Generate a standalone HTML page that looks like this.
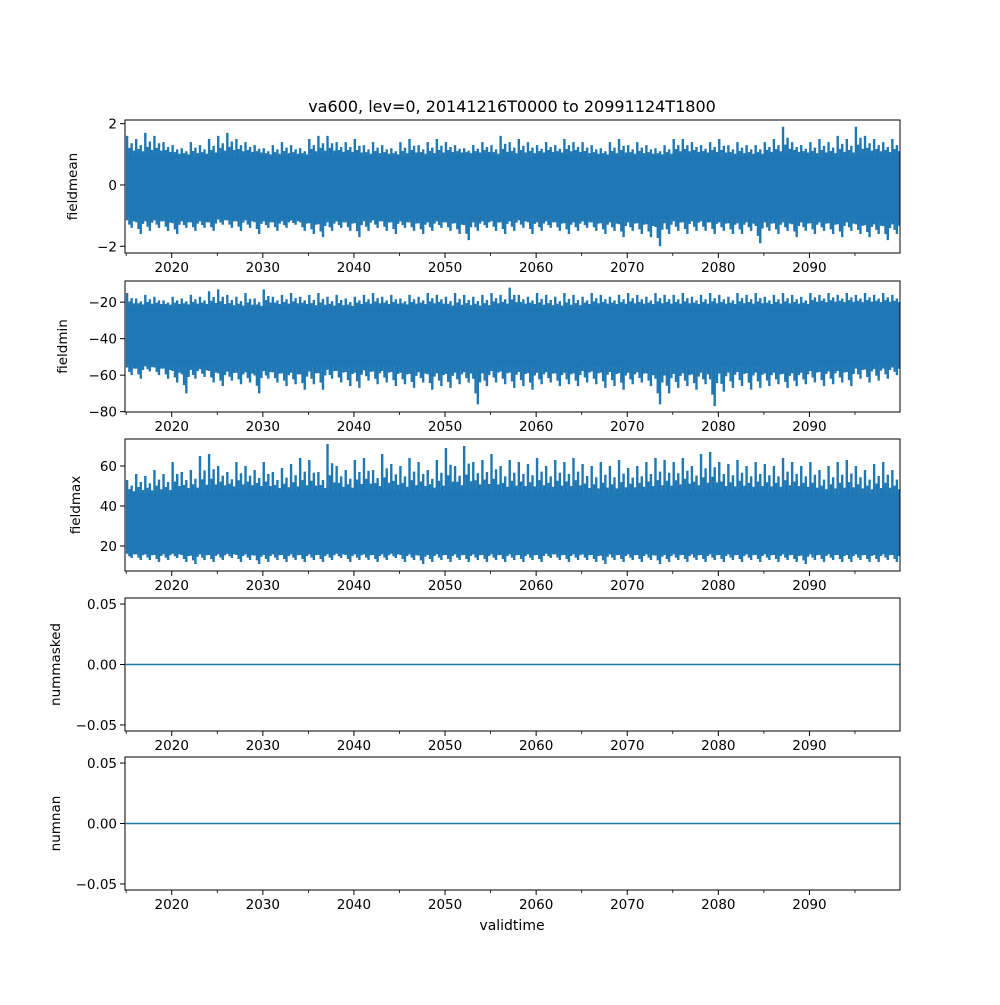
<!DOCTYPE html>
<html><head><meta charset="utf-8"><style>
html,body{margin:0;padding:0;background:#fff;}
svg text{font-family:"DejaVu Sans","Liberation Sans",sans-serif;fill:#000;}
</style></head><body>
<svg id="fig" width="1000" height="1000" viewBox="0 0 1000 1000" xmlns="http://www.w3.org/2000/svg">
<rect width="1000" height="1000" fill="#fff"/>
<text x="512" y="112" font-size="16" text-anchor="middle">va600, lev=0, 20141216T0000 to 20991124T1800</text>
<text x="512" y="930" font-size="14" text-anchor="middle">validtime</text>
</svg>
<script>
// ---- data (read/estimated from reference) ----
const years = [];
for (let y = 2015; y <= 2099; y++) years.push(y);
const binStarts = [2015,2020,2025,2030,2035,2040,2045,2050,2055,2060,2065,2070,2075,2080,2085,2090,2095];
const meanPeakHi = [1.6,1.5,1.7,1.6,1.4,1.3,1.2,1.4,1.3,1.5, 1.6,1.7,1.5,1.4,1.3,1.2,1.3,1.4,1.3,1.2, 1.5,1.6,1.6,1.4,1.4,1.5,1.3,1.4,1.3,1.2, 1.4,1.5,1.3,1.4,1.5,1.4,1.3,1.2,1.3,1.4, 1.3,1.6,1.4,1.5,1.4,1.3,1.4,1.3,1.5,1.4, 1.4,1.3,1.2,1.4,1.5,1.3,1.4,1.3,1.2,1.3, 1.5,1.5,1.4,1.3,1.4,1.5,1.3,1.4,1.3,1.3, 1.4,1.5,1.9,1.4,1.3,1.4,1.5,1.4,1.6,1.5, 1.9,1.6,1.5,1.4,1.5];
const meanPeakLo = [-1.4,-1.6,-1.5,-1.4,-1.5,-1.6,-1.4,-1.5,-1.4,-1.5, -1.3,-1.4,-1.5,-1.4,-1.6,-1.4,-1.5,-1.4,-1.3,-1.5, -1.6,-1.7,-1.5,-1.4,-1.5,-1.7,-1.5,-1.4,-1.5,-1.6, -1.4,-1.5,-1.6,-1.5,-1.4,-1.5,-1.6,-1.8,-1.5,-1.4, -1.5,-1.6,-1.5,-1.4,-1.6,-1.5,-1.4,-1.5,-1.6,-1.5, -1.4,-1.5,-1.6,-1.5,-1.7,-1.5,-1.6,-1.7,-2.0,-1.6, -1.5,-1.6,-1.5,-1.5,-1.6,-1.5,-1.6,-1.6,-1.5,-1.9, -1.5,-1.6,-1.5,-1.7,-1.5,-1.6,-1.5,-1.6,-1.7,-1.5, -1.6,-1.7,-1.6,-1.8,-1.6];
const meanCoreHi = [1.0,0.95,1.0,0.95,1.0,0.95,0.95,1.0,0.95,1.0,0.95,0.95,1.0,0.95,1.0,0.95,1.0];
const meanCoreLo = [-1.05,-1.1,-1.05,-1.1,-1.1,-1.05,-1.1,-1.1,-1.05,-1.1,-1.1,-1.1,-1.05,-1.1,-1.1,-1.1,-1.15];

const minPeakHi = [-15,-18,-16,-17,-19,-17,-18,-16,-17,-14, -13,-16,-17,-15,-18,-13,-17,-16,-15,-17, -16,-15,-17,-16,-18,-17,-16,-15,-17,-16, -18,-16,-17,-15,-16,-17,-15,-16,-17,-16, -15,-16,-12,-16,-17,-15,-16,-17,-15,-16, -17,-15,-16,-17,-16,-15,-16,-17,-15,-16, -16,-15,-17,-16,-15,-16,-17,-15,-16,-15, -17,-16,-15,-16,-17,-15,-16,-15,-16,-15, -16,-15,-16,-15,-16];
const minPeakLo = [-60,-62,-58,-60,-62,-64,-70,-62,-61,-64, -66,-63,-65,-64,-70,-62,-64,-66,-65,-68, -65,-68,-62,-64,-66,-67,-63,-65,-64,-66, -65,-67,-64,-68,-66,-67,-65,-64,-76,-66, -64,-65,-67,-66,-68,-65,-64,-66,-65,-66, -64,-65,-67,-66,-68,-65,-64,-66,-76,-70, -67,-66,-68,-65,-77,-69,-67,-66,-68,-67, -66,-65,-67,-66,-65,-64,-66,-65,-64,-66, -62,-64,-63,-62,-60];
const minCoreHi = [-22,-22,-23,-22,-23,-22,-22,-23,-22,-23,-22,-22,-22,-22,-22,-21,-21];
const minCoreLo = [-54,-55,-56,-56,-55,-55,-56,-56,-55,-56,-55,-56,-56,-55,-56,-55,-54];

const maxPeakHi = [53,56,55,58,56,62,57,58,65,66, 60,57,62,60,58,62,57,59,61,64, 63,57,71,60,58,63,64,58,66,61, 60,64,62,58,63,69,60,70,62,63, 66,60,63,62,61,64,60,63,62,64, 61,60,62,60,63,59,60,62,64,63, 62,64,60,66,67,62,61,63,60,62, 61,60,64,62,60,62,58,60,62,63, 60,58,61,62,58];
const maxPeakLo = [14,13,13,12,13,14,12,11,13,12, 13,14,12,13,11,12,13,12,13,12, 13,12,13,14,12,13,13,12,13,14, 12,13,11,12,13,12,13,12,13,12, 13,12,13,12,13,12,14,13,12,13, 13,12,11,13,12,13,12,13,11,12, 13,12,13,12,13,12,13,12,13,12, 13,12,13,12,11,13,12,13,12,12, 13,12,12,13,12];
const maxCoreHi = [46,47,48,47,47,48,47,48,47,47,46,47,48,47,47,46,46];
const maxCoreLo = [17,17,17,17,17,17,17,17,17,17,17,17,17,17,17,17,17];

const zeroSeries = [0, 0];
const xTickYears = [2020,2030,2040,2050,2060,2070,2080,2090];
const xMinorYears = [2015,2025,2035,2045,2055,2065,2075,2085,2095];

// ---- layout ----
const X0 = 125, X1 = 900, TMIN = 2014.87, TMAX = 2099.94;
const tEnd = 2099.9, tStart = 2014.96;
function sx(t){ return X0 + (t - TMIN) / (TMAX - TMIN) * (X1 - X0); }
const NS = 'http://www.w3.org/2000/svg';
const svg = document.getElementById('fig');
const C = '#1f77b4';
function el(tag, attrs, parent){ const e = document.createElementNS(NS, tag); for (const k in attrs) e.setAttribute(k, attrs[k]); (parent||svg).appendChild(e); return e; }

const panels = [
  {name:'fieldmean', top:120, bot:253, ymin:-2.22, ymax:2.12, ticks:[-2,0,2], labels:['\u22122','0','2'], labx:77,
   coreHi:meanCoreHi, coreLo:meanCoreLo, peakHi:meanPeakHi, peakLo:meanPeakLo},
  {name:'fieldmin', top:281, bot:412, ymin:-80.2, ymax:-8.4, ticks:[-80,-60,-40,-20], labels:['\u221280','\u221260','\u221240','\u221220'], labx:67,
   coreHi:minCoreHi, coreLo:minCoreLo, peakHi:minPeakHi, peakLo:minPeakLo},
  {name:'fieldmax', top:439, bot:571, ymin:7.5, ymax:73.5, ticks:[20,40,60], labels:['20','40','60'], labx:80,
   coreHi:maxCoreHi, coreLo:maxCoreLo, peakHi:maxPeakHi, peakLo:maxPeakLo},
  {name:'nummasked', top:598, bot:731, ymin:-0.055, ymax:0.055, ticks:[-0.05,0,0.05], labels:['\u22120.05','0.00','0.05'], labx:60, zero:true},
  {name:'numnan', top:757, bot:890, ymin:-0.055, ymax:0.055, ticks:[-0.05,0,0.05], labels:['\u22120.05','0.00','0.05'], labx:60, zero:true}
];

const fracs = [0.1, 0.35, 0.6, 0.85];
const mixHi = [1.0, 0.35, 0.6, 0.2];
const mixLo = [0.3, 0.7, 1.0, 0.4];

panels.forEach(p => {
  const g = el('g', {});
  
  
  const sy = v => p.bot - (v - p.ymin) / (p.ymax - p.ymin) * (p.bot - p.top);
  const clipId = 'clip-' + p.name;
  const cp = el('clipPath', {id: clipId}, g);
  el('rect', {x:X0, y:p.top, width:X1-X0, height:p.bot-p.top}, cp);
  const data = el('g', {'clip-path':'url(#'+clipId+')'}, g);
  
  
  if (p.zero) {
    const ln = el('line', {x1:sx(tStart), x2:sx(tEnd), y1:sy(zeroSeries[0]), y2:sy(zeroSeries[1]), stroke:C, 'stroke-width':1.6}, data);
    
    
  } else {
    let up = [], dn = [];
    binStarts.forEach((b, i) => {
      const a = Math.max(b, tStart), e = Math.min(b + 5, tEnd);
      up.push(sx(a)+','+sy(p.coreHi[i]), sx(e)+','+sy(p.coreHi[i]));
      dn.push(sx(a)+','+sy(p.coreLo[i]), sx(e)+','+sy(p.coreLo[i]));
    });
    dn.reverse();
    const band = el('polygon', {points: up.concat(dn).join(' '), fill:C}, data);
    
    
    years.forEach((y, i) => {
      const ci = Math.min(Math.floor(i/5), binStarts.length-1);
      fracs.forEach((f, k) => {
        const t = y + f;
        if (t > tEnd) return;
        const hi = p.coreHi[ci] + (p.peakHi[i] - p.coreHi[ci]) * mixHi[k];
        const lo = p.coreLo[ci] + (p.peakLo[i] - p.coreLo[ci]) * mixLo[k];
        const s = el('line', {x1:sx(t), x2:sx(t), y1:sy(hi), y2:sy(lo), stroke:C, 'stroke-width':2.4}, data);
        
        
      });
    });
  }
  const fr = el('rect', {x:X0, y:p.top, width:X1-X0, height:p.bot-p.top, fill:'none', stroke:'#000', 'stroke-width':1}, g);
  
  
  p.ticks.forEach((v, i) => {
    const y = sy(v);
    el('line', {x1:X0-5, x2:X0, y1:y, y2:y, stroke:'#000', 'stroke-width':1}, g);
    const t = el('text', {x:X0-8, y:y+5, 'font-size':13.5, 'text-anchor':'end'}, g);
    t.textContent = p.labels[i];
    
    
  });
  xTickYears.forEach(yr => {
    const x = sx(yr);
    el('line', {x1:x, x2:x, y1:p.bot, y2:p.bot+5, stroke:'#000', 'stroke-width':1}, g);
    const t = el('text', {x:x, y:p.bot+19, 'font-size':13.5, 'text-anchor':'middle'}, g);
    t.textContent = String(yr);
    
    
  });
  xMinorYears.forEach(yr => {
    const x = sx(yr);
    el('line', {x1:x, x2:x, y1:p.bot, y2:p.bot+3, stroke:'#000', 'stroke-width':0.8}, g);
  });
  const cy = (p.top + p.bot) / 2;
  const yl = el('text', {x:p.labx, y:cy, 'font-size':13.5, 'text-anchor':'middle', transform:'rotate(-90 '+p.labx+' '+cy+')'}, g);
  yl.textContent = p.name;
  
  
});
</script>
</body></html>
